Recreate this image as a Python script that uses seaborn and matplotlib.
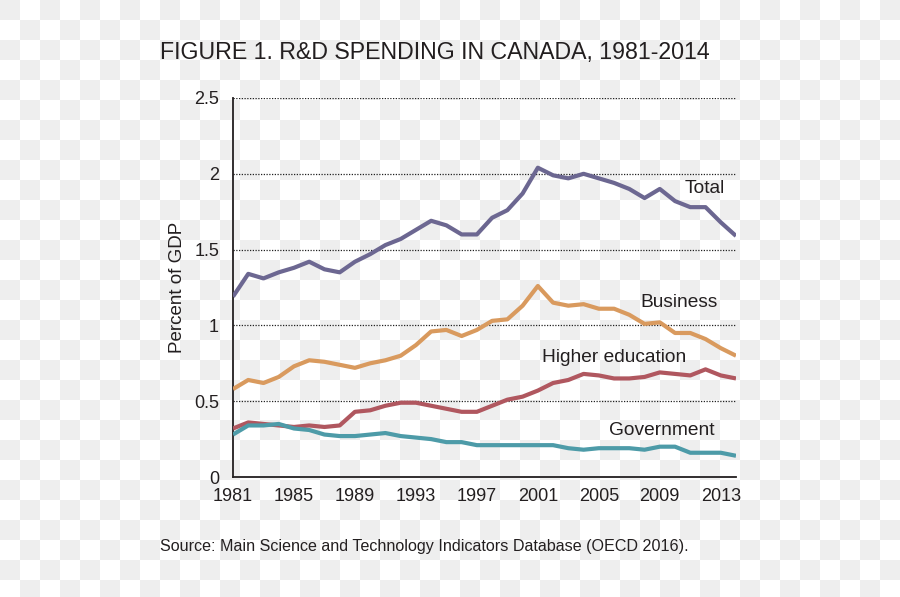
import numpy as np
import pandas as pd
import matplotlib
matplotlib.use("Agg")
import matplotlib.pyplot as plt
import seaborn as sns

years = list(range(1981, 2015))
total = [1.19, 1.34, 1.31, 1.35, 1.38, 1.42, 1.37, 1.35, 1.42, 1.47,
         1.53, 1.57, 1.63, 1.69, 1.66, 1.60, 1.60, 1.71, 1.76, 1.87,
         2.04, 1.99, 1.97, 2.00, 1.97, 1.94, 1.90, 1.84, 1.90, 1.82,
         1.78, 1.78, 1.68, 1.59]
business = [0.58, 0.64, 0.62, 0.66, 0.73, 0.77, 0.76, 0.74, 0.72, 0.75,
            0.77, 0.80, 0.87, 0.96, 0.97, 0.93, 0.97, 1.03, 1.04, 1.13,
            1.26, 1.15, 1.13, 1.14, 1.11, 1.11, 1.07, 1.01, 1.02, 0.95,
            0.95, 0.91, 0.85, 0.80]
higher_ed = [0.32, 0.36, 0.35, 0.34, 0.33, 0.34, 0.33, 0.34, 0.43, 0.44,
             0.47, 0.49, 0.49, 0.47, 0.45, 0.43, 0.43, 0.47, 0.51, 0.53,
             0.57, 0.62, 0.64, 0.68, 0.67, 0.65, 0.65, 0.66, 0.69, 0.68,
             0.67, 0.71, 0.67, 0.65]
government = [0.28, 0.34, 0.34, 0.35, 0.32, 0.31, 0.28, 0.27, 0.27, 0.28,
              0.29, 0.27, 0.26, 0.25, 0.23, 0.23, 0.21, 0.21, 0.21, 0.21,
              0.21, 0.21, 0.19, 0.18, 0.19, 0.19, 0.19, 0.18, 0.20, 0.20,
              0.16, 0.16, 0.16, 0.14]

series_names = ["Total", "Business", "Higher education", "Government"]
series_colors = ["#6c6791", "#d99a5e", "#b0575f", "#4d9ba8"]
label_pos = {"Total": (2010.6, 1.90), "Business": (2007.7, 1.15),
             "Higher education": (2001.3, 0.79), "Government": (2005.7, 0.31)}
xticks = list(range(1981, 2014, 4))
yticks = [0, 0.5, 1, 1.5, 2, 2.5]
ytick_labels = ["0", "0.5", "1", "1.5", "2", "2.5"]

title = "FIGURE 1. R&D SPENDING IN CANADA, 1981-2014"
source = "Source: Main Science and Technology Indicators Database (OECD 2016)."

df = pd.concat([
    pd.DataFrame({"year": years, "value": vals, "series": name})
    for name, vals in zip(series_names, [total, business, higher_ed, government])
])

sns.set_style("white")
plt.rcParams["font.family"] = ["Liberation Sans", "DejaVu Sans"]
txt = "#231f20"

W, H = 900, 597
fig = plt.figure(figsize=(9, 5.97), dpi=100)
fig.patch.set_facecolor("white")

# transparency-style checkerboard background
jj, ii = np.mgrid[0:H, 0:W]
checker = np.where(((ii // 20) + (jj // 20)) % 2 == 0, 0.937, 1.0)
rgb = np.dstack([checker, checker, checker])
fig.figimage(rgb, xo=0, yo=0, origin="upper", zorder=-10)

ax = fig.add_axes([233 / W, 1 - 477 / H, (736 - 233) / W, (477 - 98) / H])
ax.set_facecolor("none")
ax.patch.set_alpha(0)

sns.lineplot(data=df, x="year", y="value", hue="series", hue_order=series_names,
             palette=series_colors, linewidth=3.0, legend=False, ax=ax,
             zorder=3)
for line in ax.lines:
    line.set_solid_joinstyle("round")
    line.set_solid_capstyle("butt")

ax.set_xlim(1981, 2014)
ax.set_ylim(0, 2.5)
ax.set_xticks(xticks)
ax.set_xticklabels([str(x) for x in xticks])
ax.set_yticks(yticks)
ax.set_yticklabels(ytick_labels)

for y in yticks[1:]:
    ax.axhline(y, color="#222222", linestyle=(0, (1, 1.2)), linewidth=0.9, zorder=1)

for side in ["top", "right"]:
    ax.spines[side].set_visible(False)
for side in ["left", "bottom"]:
    ax.spines[side].set_color(txt)
    ax.spines[side].set_linewidth(1.3)

ax.tick_params(axis="x", direction="in", length=7, width=1.3, color=txt,
               labelsize=13, labelcolor=txt, pad=8)
ax.tick_params(axis="y", length=0, labelsize=13, labelcolor=txt, pad=10)

ax.set_xlabel("")
ax.set_ylabel("Percent of GDP", fontsize=13.5, color=txt)
ax.yaxis.set_label_coords(-0.093, 0.5)

for name in series_names:
    x, y = label_pos[name]
    ax.text(x, y, name, fontsize=13.8, color=txt, ha="left", va="center")

fig.text(160 / W, 1 - 52 / H, title, fontsize=16.7, color=txt,
         ha="left", va="center")
fig.text(160 / W, 1 - 547 / H, source, fontsize=11.6, color=txt,
         ha="left", va="center")

fig.savefig("out.png", dpi=100)
